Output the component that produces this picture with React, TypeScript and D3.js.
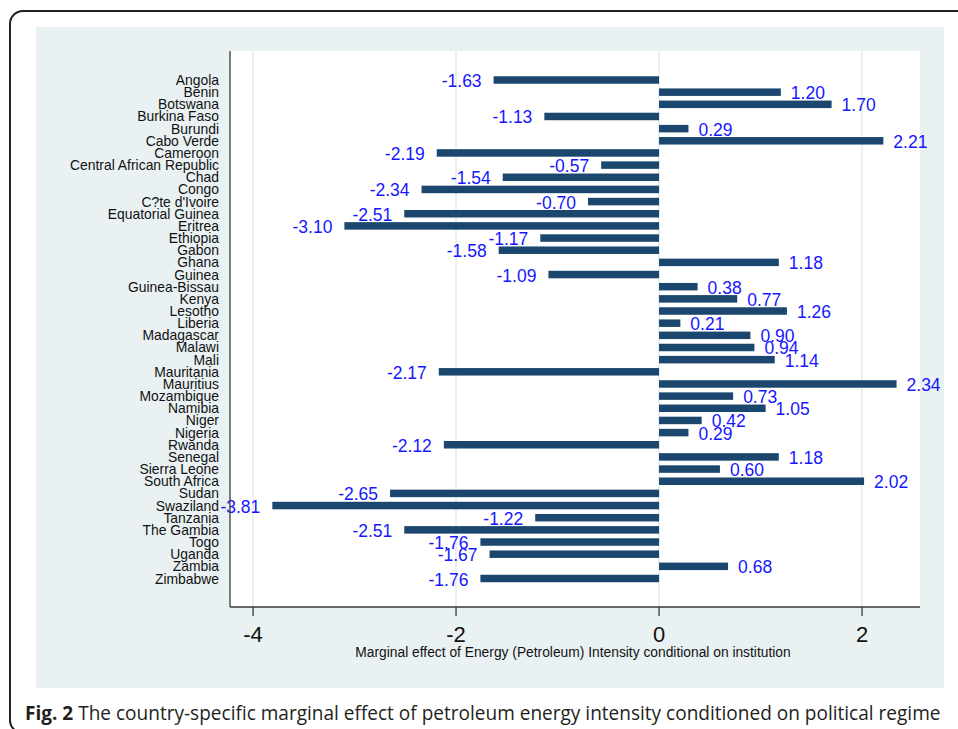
import React from 'react';
import * as d3 from 'd3';

// country order as shown top to bottom
const countries = [
  'Angola', 'Benin', 'Botswana', 'Burkina Faso', 'Burundi', 'Cabo Verde',
  'Cameroon', 'Central African Republic', 'Chad', 'Congo', "C?te d'Ivoire",
  'Equatorial Guinea', 'Eritrea', 'Ethiopia', 'Gabon', 'Ghana', 'Guinea',
  'Guinea-Bissau', 'Kenya', 'Lesotho', 'Liberia', 'Madagascar', 'Malawi',
  'Mali', 'Mauritania', 'Mauritius', 'Mozambique', 'Namibia', 'Niger',
  'Nigeria', 'Rwanda', 'Senegal', 'Sierra Leone', 'South Africa', 'Sudan',
  'Swaziland', 'Tanzania', 'The Gambia', 'Togo', 'Uganda', 'Zambia', 'Zimbabwe',
];

const effects = [
  -1.63, 1.20, 1.70, -1.13, 0.29, 2.21,
  -2.19, -0.57, -1.54, -2.34, -0.70,
  -2.51, -3.10, -1.17, -1.58, 1.18, -1.09,
  0.38, 0.77, 1.26, 0.21, 0.90, 0.94,
  1.14, -2.17, 2.34, 0.73, 1.05, 0.42,
  0.29, -2.12, 1.18, 0.60, 2.02, -2.65,
  -3.81, -1.22, -2.51, -1.76, -1.67, 0.68, -1.76,
];

const xTicks = [-4, -2, 0, 2];
const xDomain = [-4.227, 2.571];

const xTitle = 'Marginal effect of Energy (Petroleum) Intensity conditional on institution';
const captionLead = 'Fig. 2';
const captionText = ' The country-specific marginal effect of petroleum energy intensity conditioned on political regime';

const W = 958;
const H = 729;
const plot = { left: 230, right: 920, top: 51, bottom: 607 };

const font = '"Liberation Sans", Arial, Helvetica, sans-serif';

export default function App() {
  const x = d3.scaleLinear().domain(xDomain).range([plot.left, plot.right]);
  const y = d3.scalePoint<string>().domain(countries).range([80, 578.5]);
  const barH = 7.5;
  const rows = countries.map((c, i) => ({ country: c, value: effects[i] }));

  return (
    <svg width={W} height={H} style={{ position: 'absolute', left: 0, top: 0 }} fontFamily={font}>
      <rect x={0} y={0} width={W} height={H} fill="#fff" />
      {/* outer frame */}
      <rect x={10} y={11} width={980} height={722} rx={13} fill="none" stroke="#222" strokeWidth={2} />
      {/* graph region */}
      <rect x={36} y={27} width={908} height={661} fill="#eaf1f3" />
      {/* plot region */}
      <rect x={plot.left} y={plot.top} width={plot.right - plot.left} height={plot.bottom - plot.top} fill="#fff" />

      {xTicks.map(t => (
        <line key={'g' + t} x1={x(t)} x2={x(t)} y1={plot.top} y2={plot.bottom} stroke="#e8f0f3" strokeWidth={2} />
      ))}

      {rows.map(d => {
        const x0 = x(Math.min(0, d.value));
        const x1 = x(Math.max(0, d.value));
        const cy = y(d.country)!;
        return (
          <g key={d.country}>
            <rect x={x0} y={cy - barH / 2} width={x1 - x0} height={barH} fill="#1b476e" />
            <text
              x={d.value < 0 ? x0 - 12 : x1 + 10}
              y={cy + 7}
              textAnchor={d.value < 0 ? 'end' : 'start'}
              fontSize={17.5}
              fill="#1616ff"
            >
              {d.value.toFixed(2)}
            </text>
            <text x={219} y={cy + 5} textAnchor="end" fontSize={13.9} fill="#111">
              {d.country}
            </text>
          </g>
        );
      })}

      {/* axes */}
      <line x1={plot.left} x2={plot.left} y1={plot.top} y2={plot.bottom} stroke="#3a3a3a" strokeWidth={1.3} />
      <line x1={plot.left} x2={plot.right} y1={plot.bottom} y2={plot.bottom} stroke="#3a3a3a" strokeWidth={1.3} />
      {xTicks.map(t => (
        <g key={'t' + t}>
          <line x1={x(t)} x2={x(t)} y1={plot.bottom} y2={plot.bottom + 9} stroke="#3a3a3a" strokeWidth={1.3} />
          <text x={x(t)} y={642} textAnchor="middle" fontSize={22} fill="#111">
            {t}
          </text>
        </g>
      ))}
      <text x={(plot.left + plot.right) / 2 - 2} y={656.5} textAnchor="middle" fontSize={13.8} fill="#111">
        {xTitle}
      </text>

      <text x={25} y={720} fontSize={19.05} fill="#231f20" fontFamily='"Open Sans", "Noto Sans", sans-serif'>
        <tspan fontWeight="bold">{captionLead}</tspan>
        <tspan>{captionText}</tspan>
      </text>
    </svg>
  );
}
